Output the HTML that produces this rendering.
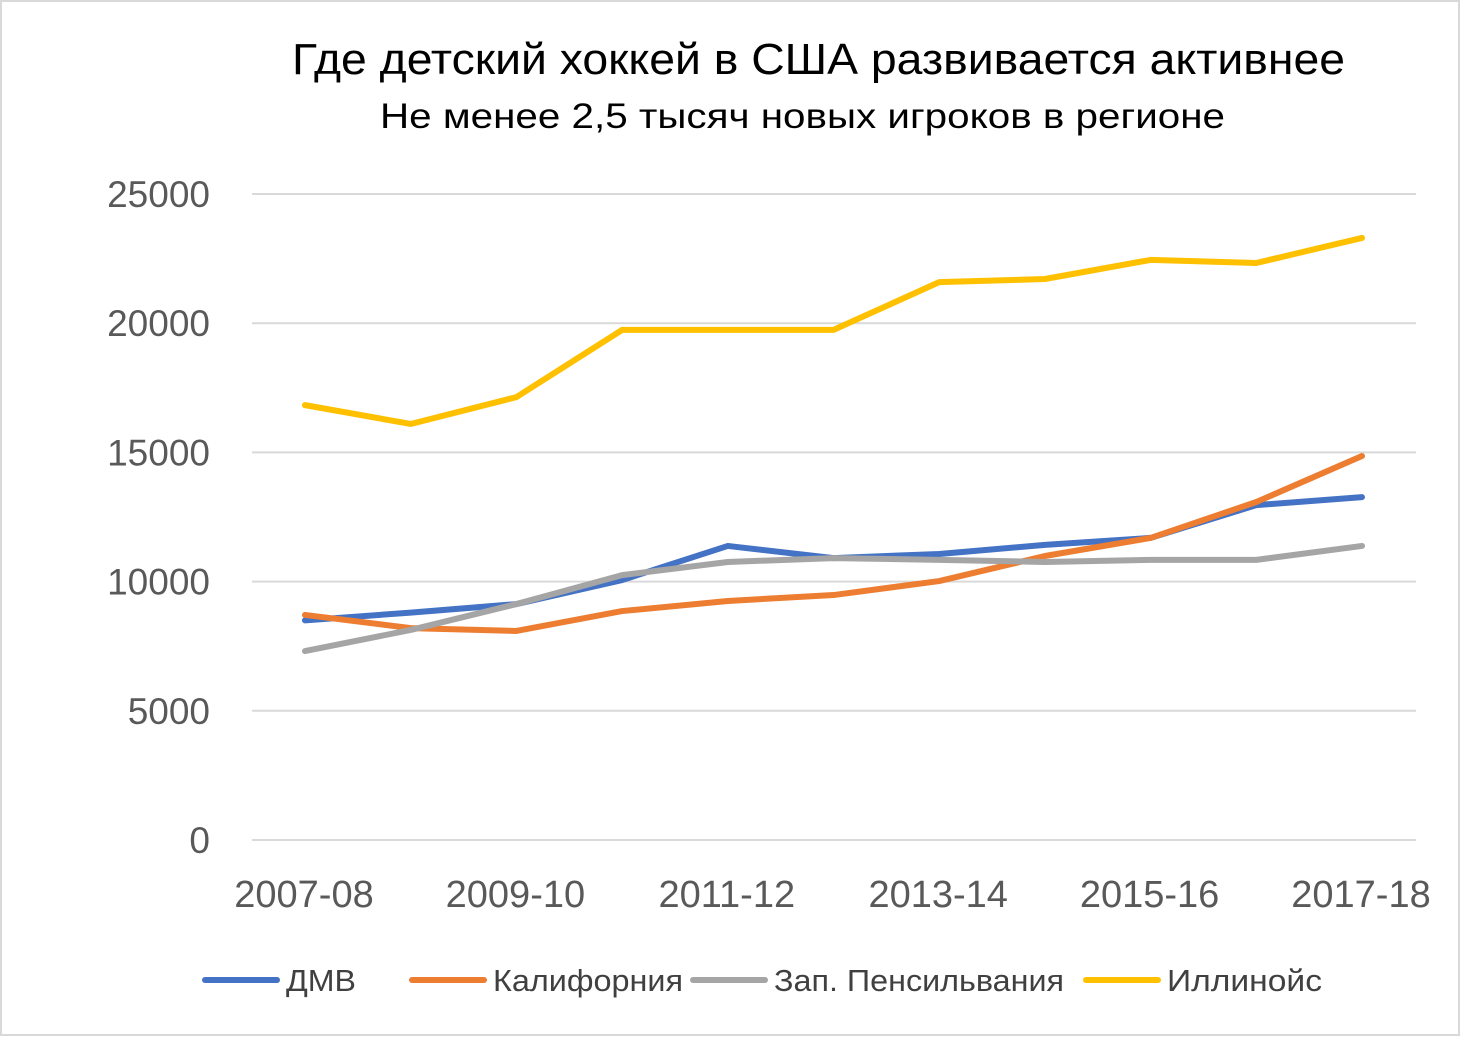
<!DOCTYPE html>
<html><head><meta charset="utf-8"><style>
html,body{margin:0;padding:0;background:#fff;}
svg{display:block;font-family:"Liberation Sans","DejaVu Sans",sans-serif;}
</style></head><body>
<svg id="chart" width="1460" height="1038" viewBox="0 0 1460 1038">
<rect x="1" y="1" width="1458" height="1034" fill="#fff" stroke="#d9d9d9" stroke-width="2"/>
<text x="292" y="74" textLength="1053" lengthAdjust="spacingAndGlyphs" font-size="44" fill="#000">Где детский хоккей в США развивается активнее</text>
<text x="380" y="128" textLength="845" lengthAdjust="spacingAndGlyphs" font-size="35" fill="#000">Не менее 2,5 тысяч новых игроков в регионе</text>
<g id="grid"></g><g id="series"></g><g id="legend"></g>
</svg>
<script>
const categories=["2007-08","2008-09","2009-10","2010-11","2011-12","2012-13","2013-14","2014-15","2015-16","2016-17","2017-18"];
const dmv=[8500,8800,9130,10060,11380,10910,11070,11420,11690,12960,13270];
const california=[8710,8200,8090,8860,9250,9480,10020,10990,11690,13080,14860];
const westPenn=[7310,8130,9130,10250,10760,10910,10840,10760,10840,10840,11380];
const illinois=[16830,16100,17140,19740,19740,19740,21590,21710,22450,22330,23300];
const yTicks=[0,5000,10000,15000,20000,25000];
const seriesNames=["ДМВ","Калифорния","Зап. Пенсильвания","Иллинойс"];
const NS="http://www.w3.org/2000/svg";
const x0=305,x1=1362,yb=840,yt=194,ymax=25000;
const xs=i=>x0+(x1-x0)*i/(categories.length-1);
const ys=v=>yb-(yb-yt)*v/ymax;
function mk(t,a,p){const e=document.createElementNS(NS,t);for(const k in a)e.setAttribute(k,a[k]);p.appendChild(e);return e;}
const grid=document.getElementById('grid');
yTicks.forEach(v=>{
 const l=mk('line',{x1:252,x2:1416,y1:ys(v),y2:ys(v),stroke:'#d9d9d9','stroke-width':2},grid);
 
 
 const t=mk('text',{x:210,y:ys(v)+13,'text-anchor':'end','font-size':37,fill:'#595959'},grid);
 t.textContent=v;
 
 
});
categories.forEach((c,i)=>{if(i%2)return;
 const t=mk('text',{x:xs(i)-1,y:907,'text-anchor':'middle','font-size':38,fill:'#595959'},grid);
 t.textContent=c;
 
 
});
const data=[dmv,california,westPenn,illinois];
const colors=["#4472c4","#ed7d31","#a5a5a5","#ffc000"];
const sg=document.getElementById('series');
data.forEach((d,k)=>{
 const p=mk('polyline',{points:d.map((v,i)=>xs(i)+','+ys(v)).join(' '),fill:'none',stroke:colors[k],'stroke-width':6,'stroke-linejoin':'round','stroke-linecap':'round'},sg);
 
 
});
const lg=document.getElementById('legend');
const lx=[205,412,693,1086];
const tl=[70,190,290,155];
seriesNames.forEach((n,k)=>{
 const l=mk('line',{x1:lx[k],x2:lx[k]+72,y1:980,y2:980,stroke:colors[k],'stroke-width':6,'stroke-linecap':'round'},lg);
 
 
 const t=mk('text',{x:lx[k]+81,y:991,'font-size':31,fill:'#404040',textLength:tl[k],lengthAdjust:'spacingAndGlyphs'},lg);
 t.textContent=n;
 
 
});
</script>
</body></html>
